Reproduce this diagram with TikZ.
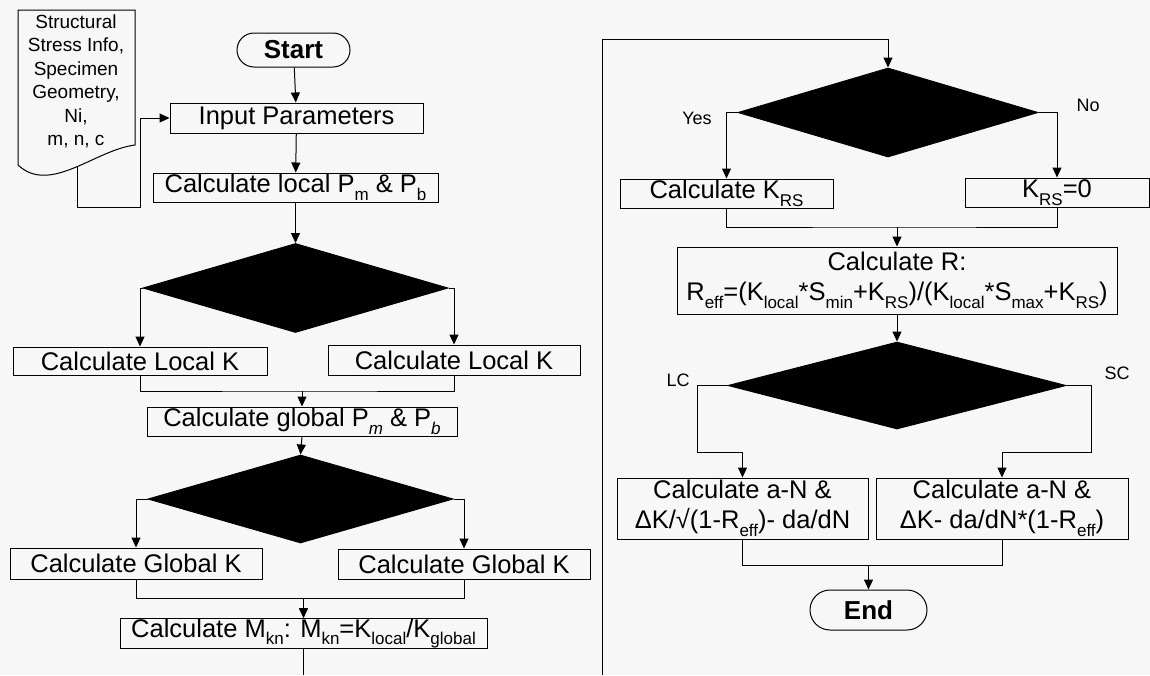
\documentclass[tikz,border=0pt]{standalone}
\usepackage{fontspec}
\setmainfont{Liberation Sans}
\usetikzlibrary{shapes.geometric,arrows.meta,calc}
\definecolor{bg}{RGB}{247,247,247}
\newcommand{\lsub}[1]{\raisebox{-0.3em}{\fontsize{17}{17}\selectfont #1}}
\newcommand{\isub}[1]{\raisebox{-0.3em}{\fontsize{17}{17}\selectfont\itshape #1}}
\begin{document}
\begin{tikzpicture}[x=1pt,y=-1pt,
  line width=1pt,
  box/.style={draw, fill=bg, inner sep=0pt, align=center, font=\fontsize{25.5}{30}\selectfont},
  term/.style={draw, fill=bg, rounded corners=17pt, inner sep=0pt, font=\fontsize{26}{26}\selectfont\bfseries},
  dec/.style={diamond, fill=black, draw=black, inner sep=0pt},
  arr/.style={-{Triangle[length=10pt,width=9pt]}},
  lbl/.style={font=\fontsize{18}{18}\selectfont, inner sep=0pt},
]
\path[fill=bg] (0,0) rectangle (1150,675);
\useasboundingbox (0,0) rectangle (1150,675);

% ---------- left column ----------
\draw[fill=bg] (18,10) -- (135,10) -- (135,145) .. controls (95,150) and (50,195) .. (18,165) -- cycle;
\node[align=center, inner sep=0pt, font=\fontsize{19}{23.5}\selectfont] (doc) at (76,81.5)
  {Structural\\Stress Info,\\Specimen\\Geometry,\\Ni,\\m, n, c};
\coordinate (docb) at (77,167);

\node[term, minimum width=113pt, minimum height=34pt] (start) at (293.5,50) {Start};
\node[box, minimum width=253pt, minimum height=30pt] (inp) at (296.5,118) {Input Parameters};
\node[box, minimum width=285pt, minimum height=29pt] (lpm) at (295.5,187.5) {Calculate local P\lsub{m} \& P\lsub{b}};
\node[dec, minimum width=305pt, minimum height=89pt] (d1) at (295.5,288) {};
\node[box, minimum width=254pt, minimum height=28pt] (lk1) at (140,361) {Calculate Local K};
\node[box, minimum width=252pt, minimum height=30pt] (lk2) at (454,360) {Calculate Local K};
\node[box, minimum width=310pt, minimum height=29pt] (gpm) at (302,421.5) {Calculate global P\isub{m} \& P\isub{b}};
\node[dec, minimum width=305pt, minimum height=88pt] (d2) at (300.5,499) {};
\node[box, minimum width=252pt, minimum height=31pt] (gk1) at (136,563.5) {Calculate Global K};
\node[box, minimum width=252pt, minimum height=30pt] (gk2) at (464,564) {Calculate Global K};
\node[box, minimum width=367pt, minimum height=29pt] (mkn) at (303.5,633.5)
  {Calculate M\lsub{kn}: M\lsub{kn}=K\lsub{local}/K\lsub{global}};
\coordinate (offL) at (303.5,675);
\coordinate (m1) at (302,391);
\coordinate (m2) at (303.5,598);

\draw[arr] (docb) -- (77,207) -| (140,118) -- (inp.west);
\draw[arr] (start) -- (inp);
\draw[arr] (inp) -- (lpm);
\draw[arr] (lpm) -- (d1.north);
\draw[arr] (d1.west) -| (lk1.north);
\draw[arr] (d1.east) -| (lk2.north);
\draw (lk1.south) |- (m1) -| (lk2.south);
\draw[arr] (m1) -- (gpm.north);
\draw[arr] (gpm.south) -- (d2.north);
\draw[arr] (d2.west) -| (gk1.north);
\draw[arr] (d2.east) -| (gk2.north);
\draw (gk1.south) |- (m2) -| (gk2.south);
\draw[arr] (m2) -- (mkn.north);
\draw (mkn.south) -- (offL);

% ---------- right column ----------
\coordinate (offR) at (602,675);
\coordinate (topL) at (602,39);
\node[dec, minimum width=300pt, minimum height=89pt] (d3) at (888,112.5) {};
\node[lbl] (yes) at (697,118) {Yes};
\node[lbl] (no) at (1088,105) {No};
\node[box, minimum width=213pt, minimum height=29pt] (krs) at (726.5,193.5) {Calculate K\lsub{RS}};
\node[box, minimum width=184pt, minimum height=29pt] (krs0) at (1057,192.5) {K\lsub{RS}=0};
\coordinate (m3) at (897,227);
\node[box, minimum width=440pt, minimum height=67pt] (rbox) at (897,280.5)
  {Calculate R:\\R\lsub{eff}=(K\lsub{local}*S\lsub{min}+K\lsub{RS})/(K\lsub{local}*S\lsub{max}+K\lsub{RS})};
\node[dec, minimum width=338pt, minimum height=87pt] (d4) at (897,385.5) {};
\node[lbl] (lc) at (678,380) {LC};
\node[lbl] (sc) at (1117,373) {SC};
\node[box, minimum width=251pt, minimum height=61pt] (an1) at (742.5,508.5)
  {Calculate a-N \&\\ΔK/√(1-R\lsub{eff})- da/dN};
\node[box, minimum width=252pt, minimum height=61pt] (an2) at (1002,508.5)
  {Calculate a-N \&\\ΔK- da/dN*(1-R\lsub{eff})};
\coordinate (m4) at (868.5,565);
\node[term, rounded corners=20pt, minimum width=117pt, minimum height=40pt] (endn) at (868.5,610) {End};

\draw[arr] (offR) -- (topL) -| (d3.north);
\draw[arr] (d3.west) -| (krs.north);
\draw[arr] (d3.east) -| (krs0.north);
\draw (krs.south) |- (m3) -| (krs0.south);
\draw[arr] (m3) -- (rbox.north);
\draw[arr] (rbox.south) -- (d4.north);
\draw[arr] (d4.west) -- ++(-30,0) |- ([yshift=25pt]an1.north) -- (an1.north);
\draw[arr] (d4.east) -- ++(25,0) |- ([yshift=25pt]an2.north) -- (an2.north);
\draw (an1.south) |- (m4) -| (an2.south);
\draw[arr] (m4) -- (endn.north);
\end{tikzpicture}
\end{document}
